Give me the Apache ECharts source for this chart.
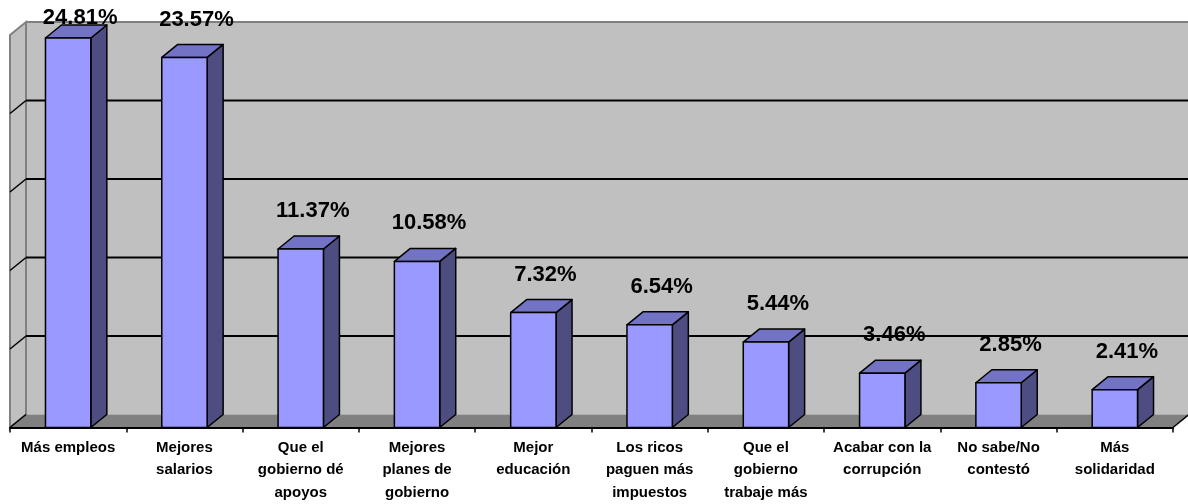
<!DOCTYPE html>
<html>
<head>
<meta charset="utf-8">
<script src="https://cdn.jsdelivr.net/npm/echarts@6/dist/echarts.min.js"></script>
<style>
  html, body { margin: 0; padding: 0; background: #ffffff; }
  #chart { width: 1188px; height: 504px; }
</style>
</head>
<body>
<div id="chart"></div>
<script>
// Categories (answers) and their shares in percent
const categories = [
  'Más empleos',
  'Mejores\nsalarios',
  'Que el\ngobierno dé\napoyos',
  'Mejores\nplanes de\ngobierno',
  'Mejor\neducación',
  'Los ricos\npaguen más\nimpuestos',
  'Que el\ngobierno\ntrabaje más',
  'Acabar con la\ncorrupción',
  'No sabe/No\ncontestó',
  'Más\nsolidaridad'
];
const shares = [24.81, 23.57, 11.37, 10.58, 7.32, 6.54, 5.44, 3.46, 2.85, 2.41];
const gridValues = [5, 10, 15, 20];
const axisMax = 25;

// 3D depth offset (pixels) used for walls, floor and bar sides
const DX = 16, DY = -13;

const chart = echarts.init(document.getElementById('chart'), null, { renderer: 'canvas' });

function wallsRender(params, api) {
  const cs = params.coordSys;
  const x0 = cs.x, x1 = cs.x + cs.width;
  const yBase = api.coord([0, 0])[1];
  const yTop = api.coord([0, axisMax])[1];
  const children = [];
  // back wall
  children.push({ type: 'rect', shape: { x: x0 + DX, y: yTop + DY, width: x1 - x0 + 2, height: yBase - yTop },
    style: { fill: '#C0C0C0', stroke: null } });
  // left side wall
  children.push({ type: 'polygon', shape: { points: [[x0, yTop], [x0 + DX, yTop + DY], [x0 + DX, yBase + DY], [x0, yBase]] },
    style: { fill: '#C0C0C0', stroke: '#808080', lineWidth: 2 } });
  // floor
  children.push({ type: 'polygon', shape: { points: [[x0, yBase], [x0 + DX, yBase + DY], [x1 + DX, yBase + DY], [x1, yBase]] },
    style: { fill: '#808080', stroke: null } });
  // top border of the back wall
  children.push({ type: 'line', shape: { x1: x0 + DX, y1: yTop + DY, x2: x1 + DX + 2, y2: yTop + DY },
    style: { stroke: '#808080', lineWidth: 2 } });
  // back wall corner
  children.push({ type: 'line', shape: { x1: x0 + DX, y1: yTop + DY, x2: x0 + DX, y2: yBase + DY },
    style: { stroke: '#808080', lineWidth: 2 } });
  // gridlines on the back wall and the left wall
  gridValues.forEach(v => {
    const y = api.coord([0, v])[1];
    children.push({ type: 'line', shape: { x1: x0 + DX, y1: y + DY, x2: x1 + DX + 2, y2: y + DY },
      style: { stroke: '#000000', lineWidth: 2 } });
    children.push({ type: 'line', shape: { x1: x0, y1: y, x2: x0 + DX, y2: y + DY },
      style: { stroke: '#000000', lineWidth: 1.5 } });
  });
  // floor edges
  children.push({ type: 'line', shape: { x1: x0, y1: yBase, x2: x0 + DX, y2: yBase + DY },
    style: { stroke: '#000000', lineWidth: 1.5 } });
  children.push({ type: 'line', shape: { x1: x1, y1: yBase, x2: x1 + DX, y2: yBase + DY },
    style: { stroke: '#000000', lineWidth: 1.5 } });
  return { type: 'group', children: children };
}

function barRender(params, api) {
  const idx = api.value(0);
  const val = api.value(1);
  const top = api.coord([idx, val]);
  const base = api.coord([idx, 0]);
  const w = api.size([1, 0])[0] * 0.39;
  const xl = top[0] - w / 2, xr = top[0] + w / 2;
  const yt = top[1], yb = base[1];
  const edge = { stroke: '#000000', lineWidth: 1.5, lineJoin: 'round' };
  const labelY = Math.max(yt - 38, 18);
  return {
    type: 'group',
    children: [
      { type: 'polygon', shape: { points: [[xr, yt], [xr + DX, yt + DY], [xr + DX, yb + DY], [xr, yb]] },
        style: Object.assign({ fill: '#4D4D82' }, edge) },
      { type: 'polygon', shape: { points: [[xl, yt], [xl + DX, yt + DY], [xr + DX, yt + DY], [xr, yt]] },
        style: Object.assign({ fill: '#7373C6' }, edge) },
      { type: 'rect', shape: { x: xl, y: yt, width: w, height: yb - yt },
        style: Object.assign({ fill: '#9999FF' }, edge) },
      { type: 'text', x: top[0] + 12, y: labelY,
        style: { text: val.toFixed(2) + '%', fill: '#000000', font: 'bold 22px "Liberation Sans", Arial, sans-serif',
          align: 'center', verticalAlign: 'middle' } }
    ]
  };
}

const option = {
  animation: false,
  backgroundColor: '#ffffff',
  grid: { left: 10, right: 15, top: 35, bottom: 76, containLabel: false },
  xAxis: {
    type: 'category',
    data: categories,
    boundaryGap: true,
    axisLine: { show: true, lineStyle: { color: '#000000', width: 2 } },
    axisTick: { show: true, length: 5, interval: 0, lineStyle: { color: '#000000', width: 1.5 } },
    axisLabel: {
      interval: 0, margin: 9, color: '#000000', fontWeight: 'bold', fontSize: 15, lineHeight: 22.5,
      fontFamily: '"Liberation Sans", Arial, sans-serif'
    },
    z: 10
  },
  yAxis: {
    type: 'value', min: 0, max: axisMax, interval: 5,
    axisLine: { show: false }, axisTick: { show: false }, axisLabel: { show: false }, splitLine: { show: false }
  },
  series: [
    { type: 'custom', renderItem: wallsRender, data: [[0, 0]], z: 1, silent: true },
    { type: 'custom', renderItem: barRender, data: shares.map((v, i) => [i, v]), z: 2,
      encode: { x: 0, y: 1 } }
  ]
};

chart.setOption(option);
</script>
</body>
</html>
